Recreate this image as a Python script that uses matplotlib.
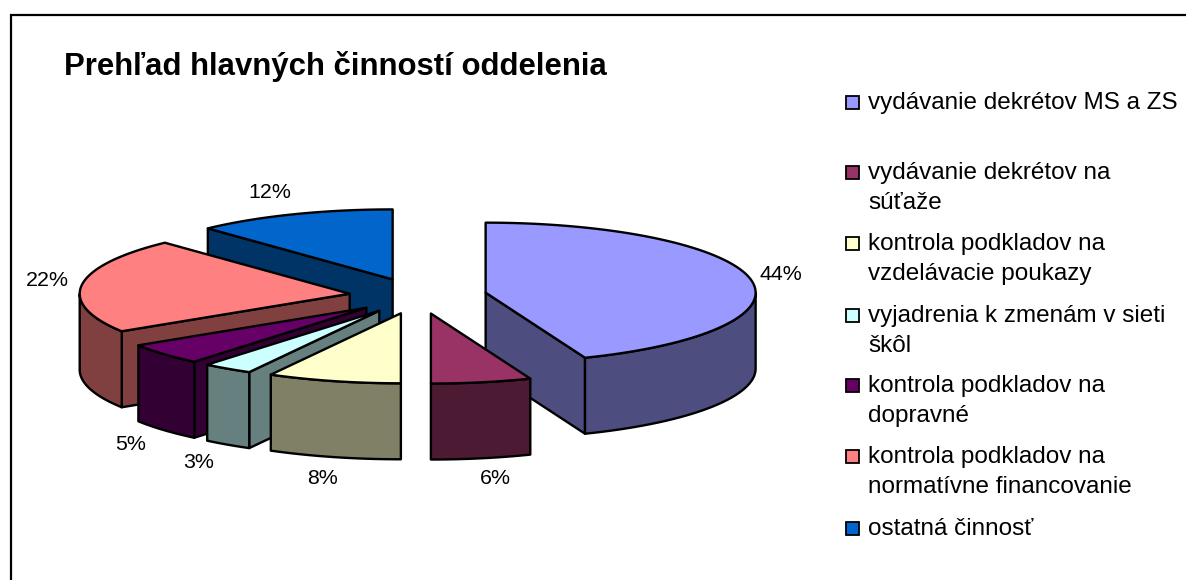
import matplotlib
matplotlib.use('Agg')
import matplotlib.pyplot as plt
import numpy as np
from matplotlib.colors import to_rgb
from matplotlib.patches import Polygon, Rectangle

plt.rcParams['font.family'] = ['Liberation Sans', 'DejaVu Sans']

title = 'Prehľad hlavných činností oddelenia'
labels = ['vydávanie dekrétov MS a ZS', 'vydávanie dekrétov na\nsúťaže',
          'kontrola podkladov na\nvzdelávacie poukazy', 'vyjadrenia k zmenám v sieti\nškôl',
          'kontrola podkladov na\ndopravné', 'kontrola podkladov na\nnormatívne financovanie',
          'ostatná činnosť']
shares = [44, 6, 8, 3, 5, 22, 12]
colors = ['#9999FF', '#993366', '#FFFFCC', '#CCFFFF', '#660066', '#FF8080', '#0066CC']

# pie geometry, in pixels
cx, cy = 418, 296
rx, ry = 270, 70
depth = 76
explode = 0.255

# where the legend rows and the percent labels sit
legend_y = [103, 173, 244, 316, 386, 457, 529]
pct_pos = [(781, 274), (495, 478), (323, 478), (199, 463), (131, 445), (47, 281), (270, 193)]

fig = plt.figure(figsize=(11.86, 5.8), dpi=100)
ax = fig.add_axes([0, 0, 1, 1])
ax.set_xlim(0, 1186)
ax.set_ylim(580, 0)
ax.axis('off')

# chart frame, cut off by the image on the right and at the bottom
ax.plot([11, 11, 1186], [580, 15, 15], color='black', lw=1.6, solid_joinstyle='miter')

ax.text(64, 67, title, fontsize=22.4, fontweight='bold', ha='left', va='center')

# clockwise angles from 12 o'clock
edges = np.radians(np.cumsum([0] + shares) * 3.6)


def face(points, color):
    ax.add_patch(Polygon(points, closed=True, facecolor=color, edgecolor='black', lw=1.7, joinstyle='round'))


def draw_slice(i):
    a, b = edges[i], edges[i + 1]
    mid = (a + b) / 2
    px = cx + explode * rx * np.sin(mid)
    py = cy - explode * ry * np.cos(mid)
    top = np.array(colors_rgb[i])
    dark = top * 0.5

    t = np.linspace(a, b, 80)
    rim = np.column_stack([px + rx * np.sin(t), py - ry * np.cos(t)])
    apex = np.array([px, py])
    down = np.array([0, depth])

    # cut faces that look towards the viewer
    if np.sin(a) < -1e-6:
        face([apex, rim[0], rim[0] + down, apex + down], dark)
    if np.sin(b) > 1e-6:
        face([apex, rim[-1], rim[-1] + down, apex + down], dark)

    # outer wall, front half of the rim only
    front = np.cos(t) < 0
    if front.any():
        wall = rim[front]
        face(np.vstack([wall, (wall + down)[::-1]]), dark)

    face(np.vstack([[apex], rim]), top)


colors_rgb = [to_rgb(c) for c in colors]

# back to front
for i in [6, 5, 4, 3, 2, 0, 1]:
    draw_slice(i)

for share, (x, y) in zip(shares, pct_pos):
    ax.text(x, y, f'{share}%', fontsize=15.4, ha='center', va='center', color='black')

# legend
for label, color, y in zip(labels, colors, legend_y):
    ax.add_patch(Rectangle((846, y - 7), 13, 13, facecolor=color, edgecolor='black', lw=1.3))
    first = label.split('\n')[0]
    ax.text(868, y, first, fontsize=17.5, ha='left', va='center')
    if '\n' in label:
        ax.text(868, y + 30, label.split('\n')[1], fontsize=17.5, ha='left', va='center')

fig.savefig('out.png', dpi=100)
plt.close(fig)
